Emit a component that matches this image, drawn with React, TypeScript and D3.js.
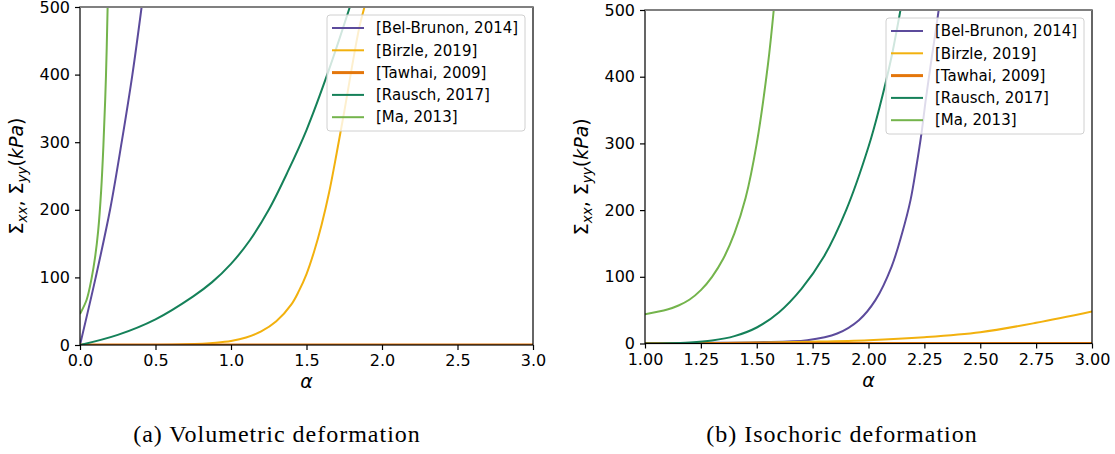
import React, { useRef, useEffect } from "react";
import * as d3 from "d3";

type Pt = [number, number];

const seriesLabels = ["[Bel-Brunon, 2014]", "[Birzle, 2019]", "[Tawhai, 2009]", "[Rausch, 2017]", "[Ma, 2013]"];
const seriesColors = ["#5c4b9c", "#f2b10e", "#e4760b", "#158159", "#74b44c"];
const seriesWidths = [2, 2, 3, 2, 2];

// (a) volumetric deformation, alpha -> stress (kPa)
const volBelBrunon: Pt[] = [[0, 0], [0.104, 100], [0.199, 200], [0.276, 300], [0.347, 400], [0.408, 500]];
const volBirzle: Pt[] = [[0, 0], [0.5, 0], [0.7, 1], [0.9, 3.5], [1.0, 6], [1.1, 11], [1.2, 20], [1.3, 35], [1.4, 60], [1.45, 80], [1.5, 105], [1.55, 138], [1.6, 178], [1.65, 226], [1.7, 284], [1.75, 345], [1.8, 410], [1.85, 470], [1.884, 500]];
const volTawhai: Pt[] = [[0, 0], [3, 0]];
const volRausch: Pt[] = [[0, 0], [0.25, 15], [0.5, 38], [0.75, 72], [0.875, 93], [1.0, 120], [1.125, 155], [1.25, 200], [1.375, 256], [1.5, 318], [1.65, 408], [1.787, 500]];
const volMa: Pt[] = [[0, 46], [0.044, 67], [0.077, 99], [0.1, 130], [0.12, 168], [0.14, 228], [0.155, 295], [0.172, 398], [0.183, 500]];

// (b) isochoric deformation
const isoBelBrunon: Pt[] = [[1, 0], [1.25, 0.8], [1.5, 2], [1.726, 5], [1.86, 15], [1.957, 35], [2.031, 65], [2.103, 115], [2.15, 165], [2.188, 215], [2.214, 265], [2.237, 315], [2.256, 365], [2.277, 415], [2.299, 465], [2.314, 500]];
const isoBirzle: Pt[] = [[1, 0], [1.25, 0.5], [1.5, 1.5], [1.75, 2.8], [2.0, 5], [2.25, 9.5], [2.5, 17], [2.75, 31], [3.0, 48]];
const isoTawhai: Pt[] = [[1, 0], [3, 0]];
const isoRausch: Pt[] = [[1, 0], [1.1, 0.3], [1.2, 1.5], [1.3, 4.5], [1.4, 11], [1.5, 24], [1.6, 47], [1.7, 82], [1.8, 130], [1.9, 200], [2.0, 295], [2.05, 355], [2.1, 425], [2.143, 500]];
const isoMa: Pt[] = [[1, 44], [1.1, 51], [1.15, 57], [1.2, 66], [1.25, 80], [1.3, 100], [1.35, 127], [1.4, 165], [1.45, 218], [1.5, 300], [1.55, 418], [1.576, 500]];

const volTicks = [0, 0.5, 1, 1.5, 2, 2.5, 3];
const isoTicks = [1, 1.25, 1.5, 1.75, 2, 2.25, 2.5, 2.75, 3];
const stressTicks = [0, 100, 200, 300, 400, 500];

const sans = "DejaVu Sans, sans-serif";

type PanelProps = {
    id: string,
    left: number,
    right: number,
    top: number,
    bottom: number,
    xDomain: [number, number],
    xTicks: number[],
    xFormat: string,
    series: Pt[][],
    caption: string,
    captionX: number
}

function Panel({ id, left, right, top, bottom, xDomain, xTicks, xFormat, series, caption, captionX }: PanelProps) {
    const gx = useRef<SVGGElement>(null);
    const gy = useRef<SVGGElement>(null);

    const x = d3.scaleLinear(xDomain, [left, right]);
    const y = d3.scaleLinear([0, 500], [bottom, top]);
    // centripetal Catmull-Rom keeps the steep curves smooth through the read points
    const line = d3.line<Pt>(d => x(d[0]), d => y(d[1])).curve(d3.curveCatmullRom.alpha(0.5));

    useEffect(() => {
        const ax = d3.select(gx.current!);
        ax.call(d3.axisBottom(x).tickValues(xTicks).tickFormat(d3.format(xFormat)).tickSize(5).tickPadding(5).tickSizeOuter(0));
        ax.select(".domain").remove();
        ax.attr("font-size", 16).attr("font-family", sans);
        ax.selectAll("line").attr("stroke-width", 1.2);
        ax.selectAll("text").attr("fill", "#000");

        const ay = d3.select(gy.current!);
        ay.call(d3.axisLeft(y).tickValues(stressTicks).tickFormat(d3.format("d")).tickSize(5).tickPadding(5).tickSizeOuter(0));
        ay.select(".domain").remove();
        ay.attr("font-size", 16).attr("font-family", sans);
        ay.selectAll("line").attr("stroke-width", 1.2);
        ay.selectAll("text").attr("fill", "#000");
    }, []);

    const legW = 198, legH = 116;
    const legX = right - 8 - legW;
    const legY = top + 8;
    const midY = (top + bottom) / 2;

    return (
        <g>
            <defs>
                <clipPath id={`clip-${id}`}>
                    <rect x={left} y={top} width={right - left} height={bottom - top} />
                </clipPath>
            </defs>
            <g clipPath={`url(#clip-${id})`}>
                {series.map((s, i) => (
                    <path key={i} d={line(s)!} fill="none" stroke={seriesColors[i]} strokeWidth={seriesWidths[i]} />
                ))}
            </g>
            <rect x={left} y={top} width={right - left} height={bottom - top} fill="none" stroke="#000" strokeWidth={1.2} />
            <line x1={left} x2={right} y1={top} y2={top} stroke="#808080" strokeWidth={2} />
            <g ref={gx} transform={`translate(0,${bottom})`} />
            <g ref={gy} transform={`translate(${left},0)`} />

            <g>
                <rect x={legX} y={legY} width={legW} height={legH} rx={3} fill="#fff" fillOpacity={0.8} stroke="#d0d0d0" strokeWidth={1} />
                {seriesLabels.map((lab, i) => {
                    const ly = legY + 13 + i * 22.3;
                    return (
                        <g key={i}>
                            <line x1={legX + 5} x2={legX + 37} y1={ly} y2={ly} stroke={seriesColors[i]} strokeWidth={seriesWidths[i]} />
                            <text x={legX + 49} y={ly} dy="0.35em" fontFamily={sans} fontSize={15} fill="#000">{lab}</text>
                        </g>
                    );
                })}
            </g>

            <text x={(left + right) / 2} y={bottom + 43} textAnchor="middle" fontFamily={sans} fontSize={19} fontStyle="italic">α</text>

            <text transform={`translate(${left - 57},${midY}) rotate(-90)`} textAnchor="middle" fontFamily={sans} fontSize={19}>
                <tspan>Σ</tspan>
                <tspan dy={4} fontSize={13.5} fontStyle="italic">xx</tspan>
                <tspan dy={-4}>, Σ</tspan>
                <tspan dy={4} fontSize={13.5} fontStyle="italic">yy</tspan>
                <tspan dy={-4}>(</tspan>
                <tspan fontStyle="italic">kPa</tspan>
                <tspan>)</tspan>
            </text>

            <text x={captionX} y={442} textAnchor="middle" fontFamily="Liberation Serif, serif" fontSize={24} letterSpacing={1}>{caption}</text>
        </g>
    );
}

export default function App() {
    return (
        <svg width={1115} height={454} style={{ position: "absolute", left: 0, top: 0, background: "#fff" }}>
            <Panel id="vol" left={80} right={533} top={7} bottom={345} xDomain={[0, 3]} xTicks={volTicks} xFormat=".1f"
                series={[volBelBrunon, volBirzle, volTawhai, volRausch, volMa]} caption="(a) Volumetric deformation" captionX={277} />
            <Panel id="iso" left={645} right={1092} top={10} bottom={343.5} xDomain={[1, 3]} xTicks={isoTicks} xFormat=".2f"
                series={[isoBelBrunon, isoBirzle, isoTawhai, isoRausch, isoMa]} caption="(b) Isochoric deformation" captionX={842} />
        </svg>
    );
}
